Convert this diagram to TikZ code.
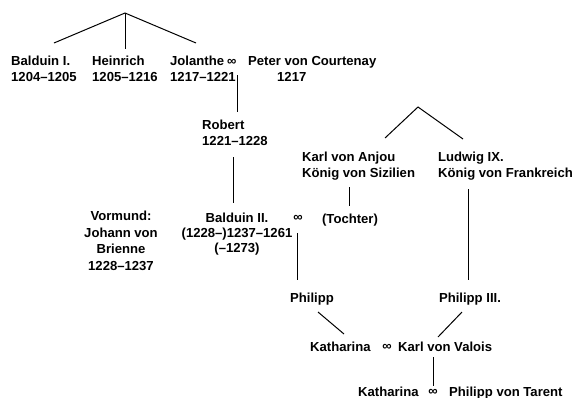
\documentclass[tikz,border=0pt]{standalone}
\usepackage{fontspec}
\setmainfont{Liberation Sans}
\begin{document}
\begin{tikzpicture}[x=1pt,y=-1pt,
  txt/.style={inner sep=0pt,font=\fontsize{13.1}{16}\selectfont\bfseries,text=black},
  ln/.style={draw=black,line width=1pt}]
\useasboundingbox[fill=white] (0,0) rectangle (575,397);
% nodes
\node[txt,align=left,anchor=north west] (balduinI) at (11,55.5) {Balduin I.\\1204--1205};
\node[txt,align=left,anchor=north west] (heinrich) at (92,55.5) {Heinrich\\1205--1216};
\node[txt,align=left,anchor=north west] (jolanthe) at (170,55.5) {Jolanthe\hspace{3pt}∞\\1217--1221};
\node[txt,anchor=base west] (peter) at (248,65) {Peter von Courtenay};
\node[txt,anchor=base west] (peterdate) at (277,81) {1217};
\node[txt,align=left,anchor=north west] (robert) at (202,120) {Robert\\1221--1228};
\node[txt,align=left,anchor=north west] (karl) at (302,152) {Karl von Anjou\\König von Sizilien};
\node[txt,align=left,anchor=north west] (ludwig) at (438,152) {Ludwig IX.\\König von Frankreich};
\node[txt,align=center,anchor=north,font=\fontsize{13.1}{16.5}\selectfont\bfseries] (vormund) at (121,211) {Vormund:\\Johann von\\Brienne\\1228--1237};
\node[txt,align=center,anchor=north,font=\fontsize{13.1}{15}\selectfont\bfseries] (balduinII) at (237,213) {Balduin II.\\(1228--)1237--1261\\(--1273)};
\node[txt] (inf1) at (298,218) {∞};
\node[txt,anchor=base] (tochter) at (350,223) {(Tochter)};
\node[txt,anchor=base] (philipp) at (312,302) {Philipp};
\node[txt,anchor=base] (philippIII) at (470,302) {Philipp III.};
\node[txt,anchor=base west] (katharinaA) at (310,351.5) {Katharina};
\node[txt] (inf2) at (387,347) {∞};
\node[txt,anchor=base west] (valois) at (398,351.5) {Karl von Valois};
\node[txt,anchor=base west] (katharinaB) at (358,396.5) {Katharina};
\node[txt] (inf3) at (433,392) {∞};
\node[txt,anchor=base west] (tarent) at (449,396.5) {Philipp von Tarent};
% connector coordinates
\coordinate (apexA) at (125,13);
\coordinate (toBalduinI) at (54,43);
\coordinate (toHeinrich) at (125,49);
\coordinate (toJolanthe) at (196,43);
\coordinate (fromJolanthe) at (237,75);
\coordinate (toRobert) at (237,112);
\coordinate (fromRobert) at (233,157);
\coordinate (toBalduinII) at (233,203);
\coordinate (apexB) at (418,107);
\coordinate (toKarl) at (385,138);
\coordinate (toLudwig) at (463,139);
\coordinate (fromKarl) at (349,187);
\coordinate (toTochter) at (349,206);
\coordinate (fromLudwig) at (468,189);
\coordinate (toPhilippIII) at (468,280);
\coordinate (fromCouple) at (297,233);
\coordinate (toPhilipp) at (297,280);
\coordinate (fromPhilipp) at (318,312);
\coordinate (toKatharinaA) at (344,334);
\coordinate (fromPhilippIII) at (462,312);
\coordinate (toValois) at (438,337);
\coordinate (fromValois) at (433,357);
\coordinate (toKatharinaB) at (433,386);
% connectors
\draw[ln] (toBalduinI) -- (apexA) -- (toJolanthe);
\draw[ln] (apexA) -- (toHeinrich);
\draw[ln] (fromJolanthe) -- (toRobert);
\draw[ln] (fromRobert) -- (toBalduinII);
\draw[ln] (toKarl) -- (apexB) -- (toLudwig);
\draw[ln] (fromKarl) -- (toTochter);
\draw[ln] (fromLudwig) -- (toPhilippIII);
\draw[ln] (fromCouple) -- (toPhilipp);
\draw[ln] (fromPhilipp) -- (toKatharinaA);
\draw[ln] (fromPhilippIII) -- (toValois);
\draw[ln] (fromValois) -- (toKatharinaB);
\end{tikzpicture}
\end{document}
